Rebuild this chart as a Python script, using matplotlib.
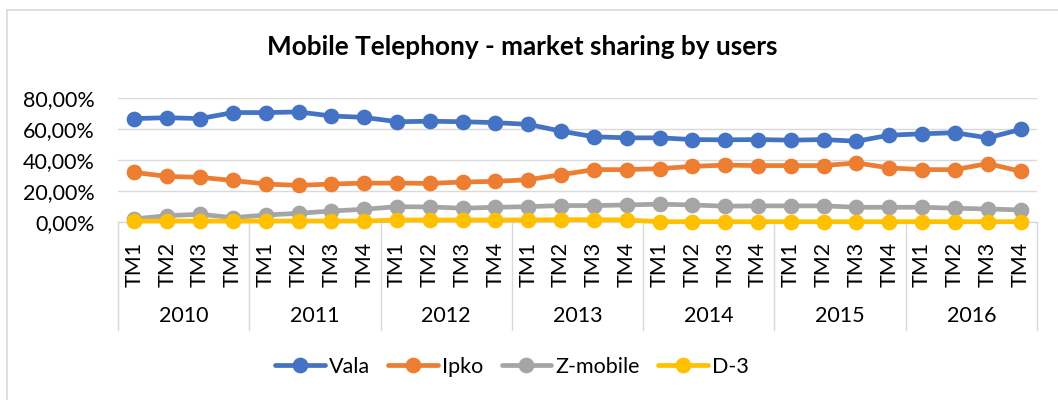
import matplotlib
matplotlib.use("Agg")
import matplotlib.pyplot as plt
from matplotlib.ticker import FuncFormatter
import matplotlib.transforms as mtransforms

plt.rcParams['font.family'] = ['Lato', 'DejaVu Sans']

# ------------------------------------------------------------------
# data (percent)
# ------------------------------------------------------------------
years = ['2010', '2011', '2012', '2013', '2014', '2015', '2016']
quarters = ['TM1', 'TM2', 'TM3', 'TM4']

vala = [66.7, 67.3, 66.7, 70.6, 70.6, 71.0, 68.4, 67.5,
        64.7, 65.0, 64.7, 64.1, 63.0, 58.6, 55.0, 54.3,
        54.3, 53.2, 53.0, 53.2, 52.8, 53.2, 52.1, 56.0,
        56.9, 57.6, 54.3, 59.7]
ipko = [32.0, 29.4, 28.8, 26.8, 24.5, 23.6, 24.5, 25.1,
        25.1, 24.9, 25.8, 26.2, 27.3, 30.5, 33.8, 33.8,
        34.4, 35.9, 36.7, 36.4, 36.4, 36.4, 38.1, 34.9,
        33.8, 33.8, 37.7, 32.7]
zmobile = [2.0, 4.1, 5.0, 2.8, 4.5, 5.6, 7.1, 8.2,
           9.9, 9.7, 8.9, 9.5, 9.9, 10.6, 10.6, 11.0,
           11.5, 11.0, 10.2, 10.4, 10.4, 10.4, 9.5, 9.5,
           9.5, 8.9, 8.4, 7.8]
d3 = [0.6, 0.6, 0.6, 0.6, 0.6, 0.6, 0.6, 0.6,
      1.3, 1.3, 1.3, 1.3, 1.3, 1.5, 1.5, 1.3,
      0.2, 0.2, 0.2, 0.2, 0.2, 0.2, 0.2, 0.2,
      0.2, 0.2, 0.2, 0.2]

series = [('Vala', vala, '#4472C4'),
          ('Ipko', ipko, '#ED7D31'),
          ('Z-mobile', zmobile, '#A5A5A5'),
          ('D-3', d3, '#FFC000')]

labels = [q for y in years for q in quarters]
x = list(range(len(labels)))

GRID = '#D9D9D9'
FS = 15.5

fig = plt.figure(figsize=(10.58, 4.0), dpi=100)
ax = fig.add_axes([118 / 1058, 1 - 222 / 400, (1037 - 118) / 1058, (222 - 98) / 400])

for name, vals, color in series:
    ax.plot(x, vals, color=color, lw=3.4, marker='o', ms=10.3,
            label=name, solid_capstyle='round', clip_on=False, zorder=3)

ax.set_xlim(-0.5, len(labels) - 0.5)
ax.set_ylim(0, 80)
ax.set_yticks([0, 20, 40, 60, 80])
ax.yaxis.set_major_formatter(FuncFormatter(lambda v, p: f"{v:.2f}%".replace('.', ',')))
ax.grid(axis='y', color=GRID, lw=1.0)
ax.set_axisbelow(True)
for s in ['top', 'right', 'left']:
    ax.spines[s].set_visible(False)
ax.spines['bottom'].set_color(GRID)
ax.spines['bottom'].set_linewidth(1.0)
ax.tick_params(axis='y', length=0, pad=17, labelsize=FS)
ax.tick_params(axis='x', length=0, pad=14, labelsize=FS)
ax.set_xticks(x)
ax.set_xticklabels(labels, rotation=90, va='top', ha='center')

# year level of the category axis
trans = mtransforms.blended_transform_factory(ax.transData, ax.transAxes)
for i in range(len(years) + 1):
    bx = i * 4 - 0.5
    ax.plot([bx, bx], [0, -0.871], transform=trans, color=GRID, lw=1.0, clip_on=False)
for i, yr in enumerate(years):
    ax.text(i * 4 + 1.5, -0.755, yr, transform=trans, ha='center', va='center', fontsize=FS)

fig.text(522 / 1058, 1 - 47 / 400, 'Mobile Telephony - market sharing by users',
         ha='center', va='center', fontsize=18.8, fontweight='bold')

fig.legend(loc='center', bbox_to_anchor=(512 / 1058, 1 - 367 / 400), ncol=4,
           frameon=False, fontsize=FS, handlelength=2.3, handletextpad=0.2,
           columnspacing=0.85)

# outer chart border (cut off on the right and bottom)
fig.add_artist(plt.Line2D([7 / 1058, 7 / 1058], [0, 1 - 10 / 400], color=GRID, lw=1.2,
                          transform=fig.transFigure))
fig.add_artist(plt.Line2D([7 / 1058, 1], [1 - 10 / 400, 1 - 10 / 400], color=GRID, lw=1.2,
                          transform=fig.transFigure))

fig.savefig('out.png', dpi=100)
